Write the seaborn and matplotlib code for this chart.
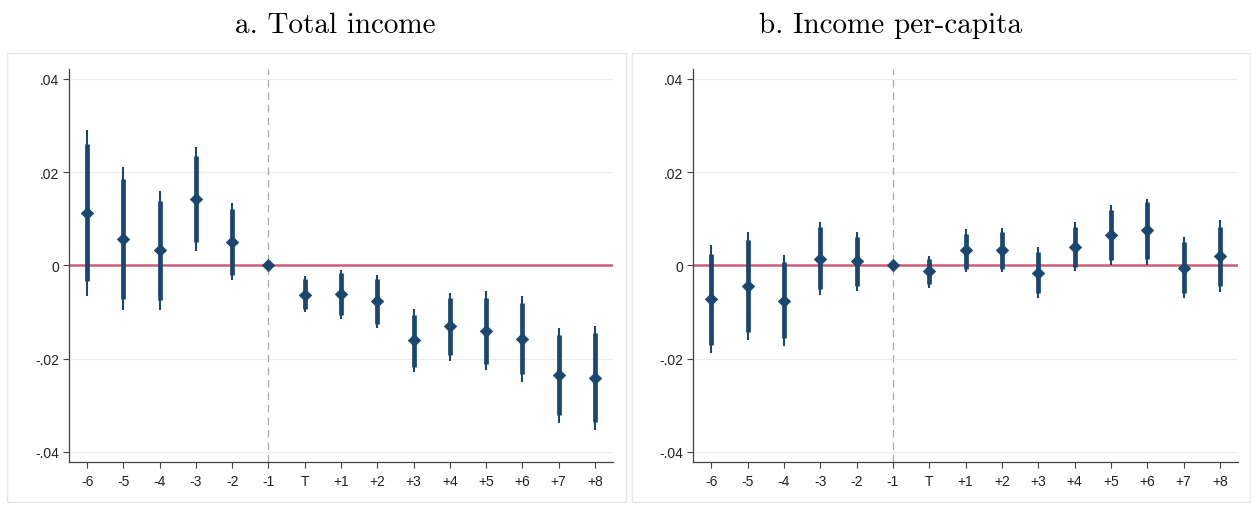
import numpy as np
import pandas as pd
import matplotlib
matplotlib.use("Agg")
import matplotlib.pyplot as plt
from matplotlib.patches import Rectangle
import seaborn as sns

# ---------------- data ----------------
periods = ["-6", "-5", "-4", "-3", "-2", "-1", "T", "+1", "+2", "+3", "+4", "+5", "+6", "+7", "+8"]

total_est = [0.0112, 0.0057, 0.0032, 0.0142, 0.0051, 0.0, -0.0063, -0.0061, -0.0077, -0.0161, -0.0131, -0.0140, -0.0157, -0.0236, -0.0241]
total_lo95 = [-0.0066, -0.0095, -0.0095, 0.0030, -0.0032, 0.0, -0.0101, -0.0114, -0.0134, -0.0229, -0.0206, -0.0225, -0.0250, -0.0337, -0.0354]
total_hi95 = [0.0290, 0.0211, 0.0159, 0.0254, 0.0134, 0.0, -0.0023, -0.0009, -0.0020, -0.0094, -0.0059, -0.0056, -0.0066, -0.0134, -0.0130]
total_lo90 = [-0.0034, -0.0072, -0.0074, 0.0051, -0.0020, 0.0, -0.0094, -0.0106, -0.0125, -0.0218, -0.0193, -0.0211, -0.0234, -0.0320, -0.0335]
total_hi90 = [0.0261, 0.0186, 0.0137, 0.0235, 0.0120, 0.0, -0.0030, -0.0016, -0.0030, -0.0106, -0.0070, -0.0070, -0.0080, -0.0150, -0.0146]

pc_est = [-0.0073, -0.0044, -0.0076, 0.0014, 0.0009, 0.0, -0.0013, 0.0032, 0.0032, -0.0016, 0.0039, 0.0066, 0.0075, -0.0005, 0.0020]
pc_lo95 = [-0.0188, -0.0160, -0.0172, -0.0064, -0.0054, 0.0, -0.0049, -0.0014, -0.0014, -0.0070, -0.0013, 0.0001, 0.0001, -0.0070, -0.0057]
pc_hi95 = [0.0043, 0.0072, 0.0023, 0.0094, 0.0072, 0.0, 0.0021, 0.0077, 0.0080, 0.0039, 0.0093, 0.0129, 0.0143, 0.0061, 0.0097]
pc_lo90 = [-0.0170, -0.0143, -0.0155, -0.0050, -0.0044, 0.0, -0.0039, -0.0007, -0.0007, -0.0059, -0.0004, 0.0011, 0.0014, -0.0059, -0.0044]
pc_hi90 = [0.0025, 0.0054, 0.0007, 0.0082, 0.0061, 0.0, 0.0014, 0.0068, 0.0072, 0.0029, 0.0082, 0.0118, 0.0136, 0.0050, 0.0082]

titles = ["a. Total income", "b. Income per-capita"]
ytick_vals = [-0.04, -0.02, 0.0, 0.02, 0.04]
ytick_labels = ["-.04", "-.02", "0", ".02", ".04"]

# ---------------- style ----------------
sns.set_theme(style="white")
plt.rcParams["font.family"] = ["Liberation Sans", "DejaVu Sans"]
plt.rcParams["axes.unicode_minus"] = False

NAVY = "#1a476f"
RED = "#cf5d78"

W, H = 1251, 506
fig = plt.figure(figsize=(W / 100, H / 100), dpi=100)

# panel backgrounds (Stata graph regions)
for (x0, x1) in [(7, 626), (632, 1250)]:
    fig.patches.append(Rectangle((x0 / W, 1 - 503 / H), (x1 - x0) / W, (503 - 54) / H,
                                 transform=fig.transFigure, facecolor="none",
                                 edgecolor="#e6e6e6", linewidth=1.0, zorder=-5))

axes_px = [(69, 613), (693, 1238)]
title_cx = [335, 891]
panels = [
    (total_est, total_lo95, total_hi95, total_lo90, total_hi90),
    (pc_est, pc_lo95, pc_hi95, pc_lo90, pc_hi90),
]

for k, ((x0, x1), data) in enumerate(zip(axes_px, panels)):
    est, lo95, hi95, lo90, hi90 = data
    ax = fig.add_axes([x0 / W, (H - 462.7) / H, (x1 - x0) / W, (462.7 - 70) / H])
    ax.set_zorder(2)
    ax.patch.set_alpha(0)
    df = pd.DataFrame({"period": periods, "est": est, "lo95": lo95, "hi95": hi95,
                       "lo90": lo90, "hi90": hi90})
    pos = np.arange(len(periods))

    # gridlines (except at zero)
    for v in ytick_vals:
        if v != 0:
            ax.axhline(v, color="#ececec", lw=0.8, zorder=0)
    ax.axhline(0, color=RED, lw=1.8, zorder=1)
    ax.axvline(periods.index("-1"), color="#aaaaaa", lw=0.9, ls=(0, (6, 4)), zorder=1)

    ax.vlines(pos, df["lo95"], df["hi95"], color=NAVY, lw=1.5, zorder=2)
    ax.vlines(pos, df["lo90"], df["hi90"], color=NAVY, lw=3.4, zorder=3)
    sns.scatterplot(data=df, x="period", y="est", marker="D", s=40, color=NAVY,
                    edgecolor=NAVY, linewidth=0.5, ax=ax, zorder=4, legend=False)

    ax.set_xlim(-0.5, len(periods) - 0.5)
    ax.set_ylim(-0.0421, 0.0421)
    ax.set_xticks(pos)
    ax.set_xticklabels(periods)
    ax.set_yticks(ytick_vals)
    ax.set_yticklabels(ytick_labels)
    ax.set_xlabel("")
    ax.set_ylabel("")
    for side in ["top", "right"]:
        ax.spines[side].set_visible(False)
    for side in ["left", "bottom"]:
        ax.spines[side].set_color("#444444")
        ax.spines[side].set_linewidth(0.9)
    ax.tick_params(axis="both", which="major", direction="out", length=4.2, width=0.8,
                   color="#444444", labelsize=10, labelcolor="#222222",
                   bottom=True, left=True)
    ax.tick_params(axis="x", pad=4.5)
    ax.tick_params(axis="y", pad=3)
    ax.grid(False)

    fig.text(title_cx[k] / W, 1 - 33.3 / H, titles[k], ha="center", va="baseline",
             fontsize=21, family="cmr10", color="black")

fig.savefig("out.png", dpi=100, facecolor="white")
